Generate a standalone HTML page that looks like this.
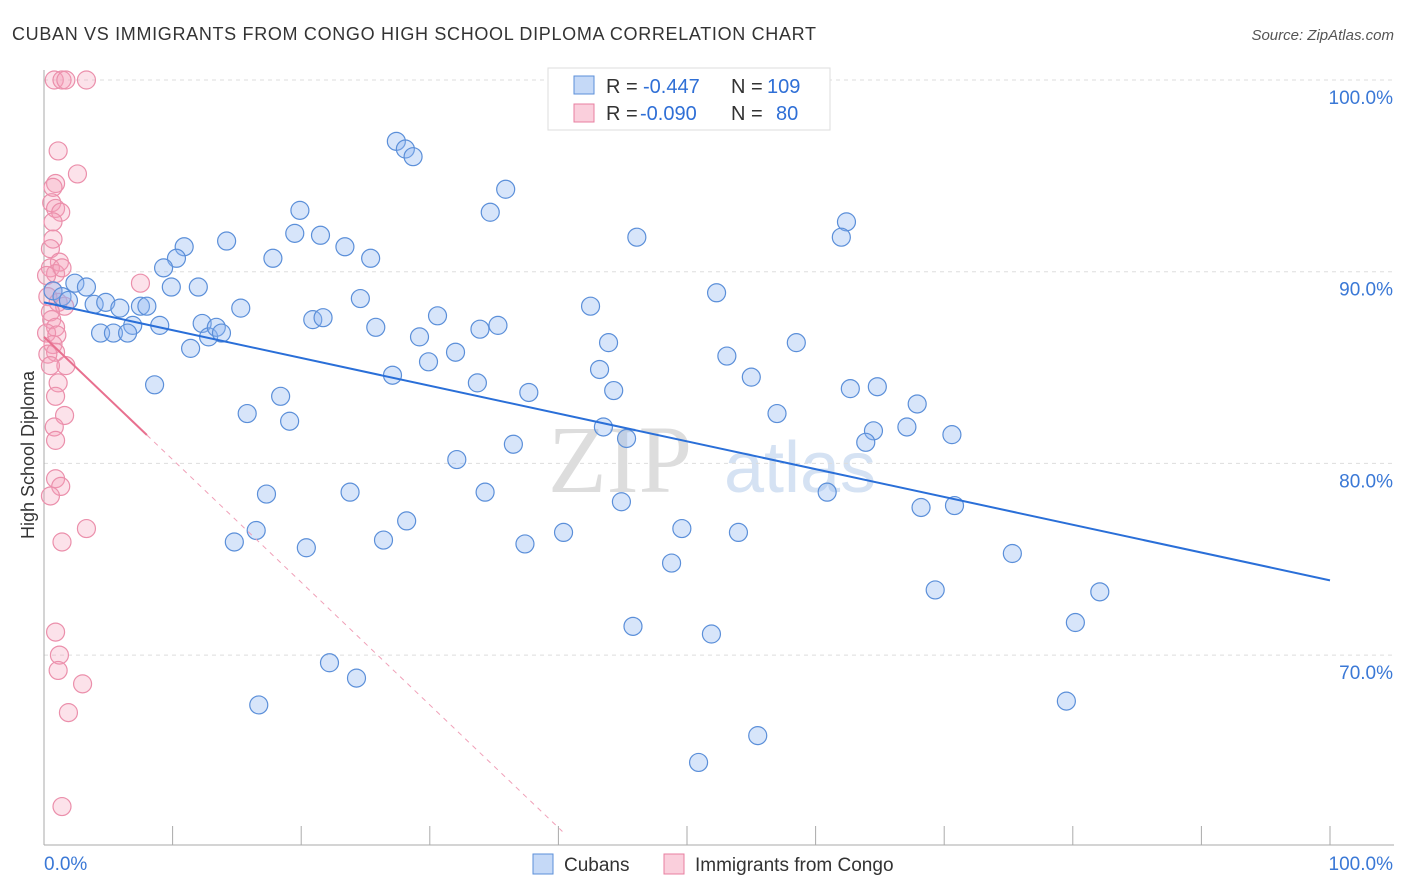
<!DOCTYPE html>
<html><head><meta charset="utf-8">
<style>
body{margin:0;background:#fff;font-family:"Liberation Sans",sans-serif;}
#wrap{position:relative;width:1406px;height:892px;overflow:hidden;}
</style></head>
<body>
<div id="wrap">
<svg id="svg" width="1406" height="892" xmlns="http://www.w3.org/2000/svg">
<text x="12" y="40" font-size="18" fill="#333" textLength="804" lengthAdjust="spacing">CUBAN VS IMMIGRANTS FROM CONGO HIGH SCHOOL DIPLOMA CORRELATION CHART</text>
<text x="1394" y="40" font-size="15" fill="#555" text-anchor="end" font-style="italic">Source: ZipAtlas.com</text>
<text transform="translate(34,455) rotate(-90)" font-size="18" fill="#333" text-anchor="middle">High School Diploma</text>
<text x="620" y="492" font-size="96" fill="#ddd" font-family="Liberation Serif" text-anchor="middle">ZIP</text>
<text x="800" y="492" font-size="72" fill="#d5e2f3" text-anchor="middle">atlas</text>
<g id="grid"></g><g id="axes"></g><g id="pink"></g><g id="blue"></g><g id="lines"></g>
<g>
<rect x="548" y="68" width="282" height="62" fill="#fff" stroke="#ddd"/>
<rect x="574" y="76" width="20" height="18" fill="rgba(140,180,240,0.5)" stroke="#5b8fd9"/>
<rect x="574" y="104" width="20" height="18" fill="rgba(245,160,185,0.5)" stroke="#e87fa0"/>
<text x="606" y="93" font-size="20" fill="#333">R =</text>
<text x="643" y="93" font-size="20" fill="#2f6fd6">-0.447</text>
<text x="731" y="93" font-size="20" fill="#333">N =</text>
<text x="767" y="93" font-size="20" fill="#2f6fd6">109</text>
<text x="606" y="120" font-size="20" fill="#333">R =</text>
<text x="640" y="120" font-size="20" fill="#2f6fd6">-0.090</text>
<text x="731" y="120" font-size="20" fill="#333">N =</text>
<text x="776" y="120" font-size="20" fill="#2f6fd6">80</text>
</g>
<g>
<rect x="533" y="854" width="20" height="20" fill="rgba(140,180,240,0.5)" stroke="#5b8fd9"/>
<text x="564" y="871" font-size="19" fill="#333">Cubans</text>
<rect x="664" y="854" width="20" height="20" fill="rgba(245,160,185,0.5)" stroke="#e87fa0"/>
<text x="695" y="871" font-size="19" fill="#333">Immigrants from Congo</text>
</g>
</svg>
</div>
<script>
const blueX=[27.4,28.1,28.7,35.9,34.7,19.9,19.5,21.5,23.4,25.4,14.2,10.9,10.3,9.3,17.8,46.1,62.4,62.0,9.9,12.0,2.4,3.3,0.7,1.4,1.9,3.9,4.8,5.9,7.5,8.0,15.3,24.6,42.5,52.3,9.0,6.9,4.4,5.4,6.5,12.3,12.8,13.4,13.8,11.4,20.9,21.7,25.8,30.6,33.9,35.3,29.2,29.9,32.0,43.9,58.5,53.1,27.1,33.7,37.7,43.2,44.3,55.0,8.6,18.4,15.8,19.1,57.0,62.7,64.8,67.9,67.1,70.6,64.5,63.9,43.5,45.3,36.5,32.1,17.3,23.8,34.3,28.2,44.9,60.9,68.2,70.8,49.6,54.0,40.4,37.4,26.4,20.4,16.5,14.8,48.8,75.3,69.3,82.1,80.2,45.8,51.9,22.2,24.3,16.7,79.5,55.5,50.9];
const blueY=[96.8,96.4,96.0,94.3,93.1,93.2,92.0,91.9,91.3,90.7,91.6,91.3,90.7,90.2,90.7,91.8,92.6,91.8,89.2,89.2,89.4,89.2,89.0,88.7,88.5,88.3,88.4,88.1,88.2,88.2,88.1,88.6,88.2,88.9,87.2,87.2,86.8,86.8,86.8,87.3,86.6,87.1,86.8,86.0,87.5,87.6,87.1,87.7,87.0,87.2,86.6,85.3,85.8,86.3,86.3,85.6,84.6,84.2,83.7,84.9,83.8,84.5,84.1,83.5,82.6,82.2,82.6,83.9,84.0,83.1,81.9,81.5,81.7,81.1,81.9,81.3,81.0,80.2,78.4,78.5,78.5,77.0,78.0,78.5,77.7,77.8,76.6,76.4,76.4,75.8,76.0,75.6,76.5,75.9,74.8,75.3,73.4,73.3,71.7,71.5,71.1,69.6,68.8,67.4,67.6,65.8,64.4];
const pinkX=[0.8,1.4,1.7,3.3,1.1,2.6,0.9,0.7,0.6,0.9,1.3,0.7,0.7,0.5,1.2,0.5,0.9,1.4,0.2,7.5,0.7,0.3,1.1,1.6,0.5,0.6,0.9,0.2,1.0,0.7,0.9,0.3,1.7,0.5,1.1,0.9,1.6,0.8,0.9,0.9,1.3,0.5,3.3,1.4,0.9,1.2,1.1,3.0,1.9,1.4];
const pinkY=[100,100,100,100,96.3,95.1,94.6,94.4,93.6,93.3,93.1,92.6,91.7,91.2,90.5,90.2,89.9,90.2,89.8,89.4,89.0,88.7,88.4,88.2,87.9,87.5,87.1,86.8,86.7,86.2,85.8,85.7,85.1,85.1,84.2,83.5,82.5,81.9,81.2,79.2,78.8,78.3,76.6,75.9,71.2,70.0,69.2,68.5,67.0,62.1];
const yTicks=[100,90,80,70];
const yTickLabels=["100.0%","90.0%","80.0%","70.0%"];
const blueFit=[88.4,73.9];
const pinkFit=[86.6,-0.64];

const X=v=>44+v*12.86;
const Y=v=>80+(100-v)*19.17;
const NS="http://www.w3.org/2000/svg";
function mk(tag,attrs,parent){const e=document.createElementNS(NS,tag);for(const k in attrs)e.setAttribute(k,attrs[k]);document.getElementById(parent).appendChild(e);return e;}

yTicks.forEach((t,i)=>{
  const l=mk('line',{x1:44,x2:1394,y1:Y(t),y2:Y(t),stroke:'#ddd','stroke-dasharray':'4,4'},'grid');
  
  
  const tx=mk('text',{x:1393,y:Y(t)+24,'font-size':19,fill:'#3a78d6','text-anchor':'end'},'grid');
  tx.textContent=yTickLabels[i];
  
  
});
const ax=mk('line',{x1:44,x2:44,y1:70,y2:845,stroke:'#aaa'},'axes');


const bx=mk('line',{x1:44,x2:1394,y1:845,y2:845,stroke:'#aaa'},'axes');


for(let i=1;i<=10;i++){
  const t=mk('line',{x1:X(i*10),x2:X(i*10),y1:826,y2:845,stroke:'#aaa'},'axes');
  
  
}
const l0=mk('text',{x:44,y:870,'font-size':19,fill:'#3a78d6'},'axes');l0.textContent='0.0%';


const l1=mk('text',{x:1393,y:870,'font-size':19,fill:'#3a78d6','text-anchor':'end'},'axes');l1.textContent='100.0%';



pinkX.forEach((x,i)=>{
  const c=mk('circle',{cx:X(x),cy:Y(pinkY[i]),r:9,fill:'rgba(245,160,185,0.3)',stroke:'#eb8fab','stroke-width':1.2},'pink');
  
  
});
blueX.forEach((x,i)=>{
  const c=mk('circle',{cx:X(x),cy:Y(blueY[i]),r:9,fill:'rgba(140,180,240,0.35)',stroke:'#5b8fd9','stroke-width':1.2},'blue');
  
  
});
const bl=mk('line',{x1:X(0),y1:Y(blueFit[0]),x2:X(100),y2:Y(blueFit[1]),stroke:'#2a6fd8','stroke-width':2},'lines');


const pEnd=(60.8-pinkFit[0])/pinkFit[1];
const pd=mk('line',{x1:X(8),y1:Y(pinkFit[0]+pinkFit[1]*8),x2:X(pEnd),y2:Y(60.8),stroke:'#f0a0b8','stroke-width':1,'stroke-dasharray':'5,5'},'lines');


const pl=mk('line',{x1:X(0),y1:Y(pinkFit[0]),x2:X(8),y2:Y(pinkFit[0]+pinkFit[1]*8),stroke:'#e8708f','stroke-width':2},'lines');


</script>
</body></html>
